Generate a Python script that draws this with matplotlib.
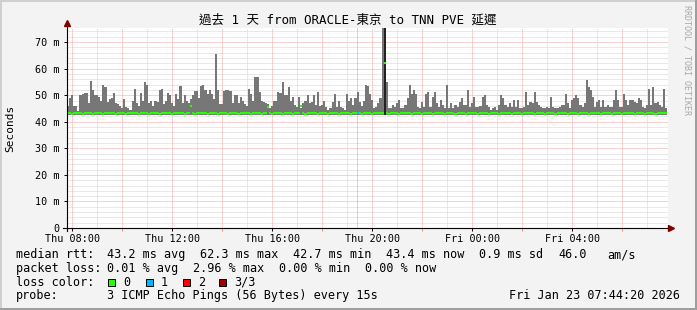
import matplotlib
matplotlib.use("Agg")
import matplotlib.pyplot as plt
from matplotlib.patches import Rectangle
import numpy as np

W, H = 697, 310
MONO = "DejaVu Sans Mono"
CJK = ["DejaVu Sans Mono", "Noto Sans CJK TC"]

title = "過去 1 天 from ORACLE-東京 to TNN PVE 延遲"

# time axis in hours since Thu 00:00, one sample every 5 minutes
t_start = 7.788
t_step = 5 / 60
x_lim = (7.788, 31.83)
y_lim = (0, 75.3)

# max ping of each sample (ms) - top of the smoke
smoke_hi = [
    46, 49, 50, 46, 46, 44, 50, 50.5, 51, 51, 47, 55.5, 52, 50, 50, 49.5, 48, 54, 53, 47.5, 48.5, 49, 51, 47,
    46.5, 46, 45, 48.5, 45.5, 45, 44.5, 48, 52.5, 47, 46, 51, 48, 55, 54, 47, 48, 46, 48, 47.5, 52, 52.5, 46.5, 48,
    51, 50, 47, 46, 50.5, 48.5, 53.5, 47, 50, 48, 47, 48.5, 50, 51.5, 51.5, 49, 53.5, 54, 52, 50.5, 52, 50.5, 48.5, 65.5,
    52, 46.5, 46.5, 51.5, 51.8, 52, 51.5, 47, 50, 50, 47, 49.5, 48, 46.5, 46, 52.5, 50.5, 48, 57, 56.8, 51.3, 48, 47.5, 47,
    46.5, 45, 46, 48, 48, 51.3, 51, 55, 50, 50, 53, 48, 49.4, 46.2, 45.6, 49.4, 45, 47, 48, 50, 47, 47.5, 50, 46.2,
    51.3, 46, 46.2, 48, 45.6, 44.5, 45, 47.5, 50.6, 45.6, 48, 45.6, 45, 44.5, 50.6, 48, 48.8, 46.2, 49, 51.3, 47.5, 46, 48, 53.8,
    53.5, 50.6, 48.1, 45.3, 45.5, 46.9, 48.8, 80, 80, 55, 45, 45, 46.2, 45.6, 46.9, 48.1, 45, 45.3, 46.2, 48.8, 53.8, 50.6, 51.9, 50.6,
    45.6, 45, 47.5, 45.6, 50.6, 51.3, 45.5, 49.4, 51.3, 46.9, 45.6, 48.1, 46.2, 45, 53.8, 45, 46.9, 45, 46.2, 45.6, 47.5, 48.8, 46.2, 46.2,
    51.9, 45.6, 46.9, 49.4, 45.6, 45.6, 46, 49.4, 50, 46.2, 45.6, 44.5, 45, 45.6, 44.5, 46.2, 50, 48.8, 46.2, 45.6, 47, 45.6, 48.1, 45.6,
    48.1, 45, 45, 45.6, 51.3, 46.2, 47.5, 46.9, 51.3, 47.5, 46.2, 45.6, 45, 45, 45.6, 45, 49.4, 45.6, 45, 45, 45.6, 46.2, 46.2, 50.6,
    46.9, 45, 48.1, 48.8, 50, 48.8, 46.2, 45.6, 46.9, 55.6, 53, 51.9, 49.4, 45.6, 47.5, 48.1, 45.6, 48.1, 45.6, 46.2, 45.6, 45.6, 48.1, 51.9,
    48.1, 45.6, 45.6, 50.6, 48.1, 46.2, 48.1, 48.1, 47.5, 46.9, 48.8, 48.1, 45.6, 45, 46.2, 52.5, 46.2, 53.1, 46.9, 47.5, 46.2, 45.5, 52.5, 45,
]
smoke_lo = 42.7

# median rtt (ms)
median = [
    43.4, 43.2, 43.0, 43.2, 43.4, 43.2, 43.2, 43.0, 43.2, 43.4, 43.2, 43.2, 43.0, 43.2, 43.2, 43.4, 43.2, 43.0, 43.2, 43.2, 43.4, 43.2, 43.2, 43.0,
    43.2, 43.4, 43.2, 43.2, 43.0, 43.2, 43.2, 43.4, 43.2, 43.2, 43.0, 43.2, 43.4, 43.2, 43.2, 43.0, 43.2, 43.2, 43.4, 43.2, 43.0, 43.2, 43.2, 43.4,
    43.2, 43.2, 43.0, 43.2, 43.2, 43.4, 43.2, 43.2, 43.0, 43.2, 43.4, 45.8, 43.2, 43.0, 43.2, 43.2, 43.4, 43.2, 43.2, 43.0, 43.2, 43.4, 43.2, 43.2,
    43.0, 43.2, 43.2, 43.4, 43.2, 43.0, 43.2, 43.2, 43.4, 43.2, 43.0, 43.2, 43.2, 43.4, 43.2, 43.2, 43.0, 43.2, 43.4, 43.2, 43.2, 43.0, 43.2, 43.2,
    45.6, 43.2, 43.0, 43.2, 43.4, 43.2, 43.2, 43.0, 43.2, 43.4, 43.2, 43.2, 43.0, 43.2, 43.2, 43.4, 46.0, 43.2, 43.0, 43.2, 43.2, 43.4, 43.2, 43.2,
    43.0, 43.2, 43.4, 43.2, 43.2, 43.0, 43.2, 43.2, 43.4, 43.2, 43.0, 43.2, 43.2, 43.4, 43.2, 43.2, 43.0, 43.2, 43.4, 43.2, 43.2, 43.0, 43.2, 43.2,
    43.4, 43.2, 43.0, 43.2, 43.2, 43.4, 43.2, 43.2, 62.3, 43.2, 43.0, 43.2, 43.2, 43.4, 43.2, 43.0, 43.2, 43.2, 43.4, 43.2, 43.2, 43.0, 43.2, 43.4,
    43.2, 43.2, 43.0, 43.2, 43.2, 43.4, 43.2, 43.0, 43.2, 43.2, 43.4, 43.2, 43.2, 43.0, 43.2, 43.4, 43.2, 43.2, 43.0, 43.2, 43.2, 43.4, 43.2, 43.0,
    43.2, 43.2, 43.4, 43.2, 43.2, 43.0, 43.2, 43.4, 43.2, 43.2, 43.0, 43.2, 43.2, 43.4, 43.2, 43.0, 43.2, 43.2, 43.4, 43.2, 43.2, 43.0, 43.2, 43.2,
    43.4, 43.2, 43.0, 43.2, 43.2, 43.4, 43.2, 43.2, 43.0, 43.2, 43.4, 43.2, 43.2, 43.0, 43.2, 43.2, 43.4, 43.2, 43.0, 43.2, 43.2, 43.4, 43.2, 43.2,
    43.0, 43.2, 43.4, 43.2, 43.2, 43.0, 43.2, 43.2, 43.4, 43.2, 43.0, 43.2, 43.2, 43.4, 43.2, 43.2, 43.0, 43.2, 43.4, 43.2, 43.2, 43.0, 43.2, 43.2,
    43.4, 43.2, 43.0, 43.2, 43.2, 43.4, 43.2, 43.2, 43.0, 43.2, 43.4, 43.2, 43.2, 43.0, 43.2, 43.2, 43.4, 43.2, 43.0, 43.2, 43.2, 43.4, 43.2, 43.4,
]
dark_idx = [152]   # sample drawn in dark smoke
loss_idx = [139]   # sample with 1/3 loss

x_ticks = [8, 12, 16, 20, 24, 28]
x_labels = ["Thu 08:00", "Thu 12:00", "Thu 16:00", "Thu 20:00", "Fri 00:00", "Fri 04:00"]
y_ticks = [0, 10, 20, 30, 40, 50, 60, 70]
y_labels = ["0", "10 m", "20 m", "30 m", "40 m", "50 m", "60 m", "70 m"]

legend_rows = [
    [(16, "median rtt:"), (107, "43.2 ms avg"), (200, "62.3 ms max"), (293, "42.7 ms min"),
     (386, "43.4 ms now"), (479, "0.9 ms sd"), (558, "46.0"), (607, "am/s")],
    [(16, "packet loss:"), (107, "0.01 % avg"), (193, "2.96 % max"), (279, "0.00 % min"),
     (365, "0.00 % now")],
    [(16, "loss color:"), (123, "0"), (161, "1"), (198, "2"), (234, "3/3")],
    [(16, "probe:"), (107, "3 ICMP Echo Pings (56 Bytes) every 15s")],
]
legend_base = [258.3, 272, 285.7, 299.4]
loss_colors = ["#26ff00", "#00b8ff", "#ff0000", "#a00000"]
swatch_x = [108, 146, 183, 219]
stamp = "Fri Jan 23 07:44:20 2026"

BG = "#f3f3f3"
SMOKE = "#777777"
GREEN = "#26ff00"
ARROW = "#800000"


def fx(x):
    return x / W


def fy(y):
    return 1 - y / H


fig = plt.figure(figsize=(W / 100, H / 100), dpi=100, facecolor=BG)
L, R, T, B = 67, 668, 28, 228
ax = fig.add_axes([fx(L), fy(B), fx(R - L), (B - T) / H])
ax.set_facecolor("white")
ax.set_xlim(*x_lim)
ax.set_ylim(*y_lim)
for s in ax.spines.values():
    s.set_visible(False)

# grid: gray every 2 m / 1 h, red every 10 m / 2 h
dots = (0, (1, 1))
for v in np.arange(2, 76, 2):
    major = v % 10 == 0
    ax.axhline(v, color="#f4a4a4" if major else "#d4d4d4", lw=0.72, ls=dots, zorder=0.5)
for h in range(8, 32):
    major = h % 2 == 0
    ax.axvline(h, color="#f4a4a4" if major else "#d4d4d4", lw=0.72, ls=dots, zorder=0.5)

n = len(smoke_hi)
xs = t_start + t_step * np.arange(n)
hi = np.array(smoke_hi)
cols = ["#222222" if i in dark_idx else SMOKE for i in range(n)]
ax.bar(xs, hi - smoke_lo, width=t_step, bottom=smoke_lo, align="edge",
       color=cols, linewidth=0, antialiased=False, zorder=2)

for i in loss_idx:
    ax.axvspan(xs[i] + 0.01, xs[i] + 0.07, color="#00b8ff", alpha=0.35, lw=0, zorder=1.5)

mcols = ["#00b8ff" if i in loss_idx else GREEN for i in range(n)]
ax.hlines(median, xs, xs + t_step, colors=mcols, lw=1.5, zorder=3)

# axes lines with arrows
ax.plot([-4 / (R - L), 1 + 2 / (R - L)], [0, 0], color="black", lw=0.8,
        transform=ax.transAxes, clip_on=False, zorder=4)
ax.plot([0, 0], [-3 / (B - T), 1 + 4 / (B - T)], color="black", lw=0.8,
        transform=ax.transAxes, clip_on=False, zorder=4)
ax.plot([1 + 3 / (R - L)], [0], marker=">", ms=4, color=ARROW, mec=ARROW,
        transform=ax.transAxes, clip_on=False, zorder=5)
ax.plot([0], [1 + 5 / (B - T)], marker="^", ms=4, color=ARROW, mec=ARROW,
        transform=ax.transAxes, clip_on=False, zorder=5)

ax.set_yticks(y_ticks, labels=y_labels)
ax.set_xticks(x_ticks, labels=x_labels)
ax.set_xticks([10, 14, 18, 22, 26, 30], minor=True)
ax.tick_params(axis="y", length=2.2, width=0.7, pad=2.9, labelsize=7.3, colors="black")
ax.tick_params(axis="x", which="major", length=2, width=0.7, pad=2.4, labelsize=7.3)
ax.tick_params(axis="x", which="minor", length=2, width=0.7, color="#f08080")
for lab in ax.get_xticklabels() + ax.get_yticklabels():
    lab.set_family(MONO)

fig.text(fx(348), fy(20), title, family=CJK, fontsize=9, ha="center", va="center")
fig.text(fx(10), fy(128), "Seconds", family=MONO, fontsize=8, rotation=90,
         ha="center", va="center")
fig.text(fx(687), fy(60), "RRDTOOL / TOBI OETIKER", family=MONO, fontsize=6,
         rotation=270, ha="center", va="center", color="#a8a8a8")

for row, base in zip(legend_rows, legend_base):
    for x, s in row:
        fig.text(fx(x), fy(base), s, family=MONO, fontsize=8.5, va="baseline")
fig.text(fx(680), fy(legend_base[3]), stamp, family=MONO, fontsize=8.5,
         va="baseline", ha="right")
for x, c in zip(swatch_x, loss_colors):
    fig.patches.append(Rectangle((fx(x), fy(286)), 7 / W, 7 / H, transform=fig.transFigure,
                                 facecolor=c, edgecolor="black", lw=0.7))

# frame shading
fig.patches.append(Rectangle((0, 1 - 2 / H), 1, 2 / H, transform=fig.transFigure, color="#cfcfcf", lw=0))
fig.patches.append(Rectangle((0, 0), 2 / W, 1, transform=fig.transFigure, color="#cfcfcf", lw=0))
fig.patches.append(Rectangle((0, 0), 1, 2 / H, transform=fig.transFigure, color="#9e9e9e", lw=0))
fig.patches.append(Rectangle((1 - 2 / W, 0), 2 / W, 1, transform=fig.transFigure, color="#9e9e9e", lw=0))

fig.savefig("out.png", dpi=100, facecolor=BG)
